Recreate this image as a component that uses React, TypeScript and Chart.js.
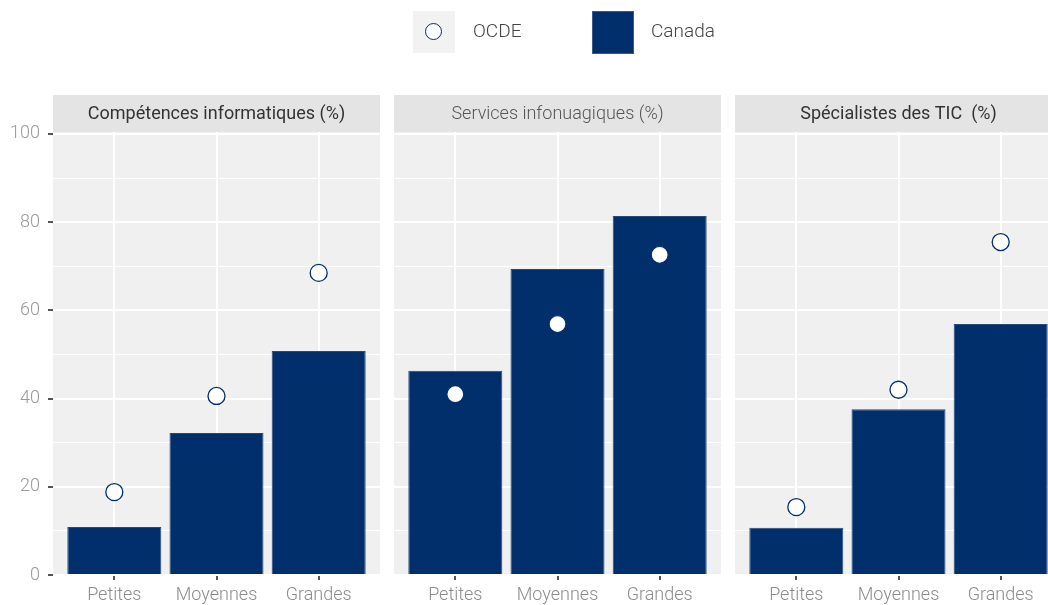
import React, { useEffect, useRef } from 'react';
import { Chart, registerables } from 'chart.js';

Chart.register(...registerables);

const categories = ['Petites', 'Moyennes', 'Grandes'];
const panelTitles = ['Compétences informatiques (%)', 'Services infonuagiques (%)', 'Spécialistes des TIC  (%)'];
const canadaCompetences = [10.9, 32.2, 50.8];
const ocdeCompetences = [18.8, 40.6, 68.5];
const canadaNuage = [46.3, 69.4, 81.4];
const ocdeNuage = [41.0, 56.9, 72.6];
const canadaTic = [10.7, 37.6, 56.9];
const ocdeTic = [15.4, 42.0, 75.5];
const yTickValues = [0, 10, 20, 30, 40, 50, 60, 70, 80, 90, 100];

const NAVY = '#002f6c';
const FONT = 'Roboto';

type PanelDef = {
  title: string;
  canada: number[];
  ocde: number[];
  showY: boolean;
  left: number;
  width: number;
  titleColor: string;
  titleWeight: number;
};

const panels: PanelDef[] = [
  { title: panelTitles[0], canada: canadaCompetences, ocde: ocdeCompetences, showY: true, left: 0, width: 380, titleColor: '#333333', titleWeight: 400 },
  { title: panelTitles[1], canada: canadaNuage, ocde: ocdeNuage, showY: false, left: 394, width: 327, titleColor: '#555555', titleWeight: 300 },
  { title: panelTitles[2], canada: canadaTic, ocde: ocdeTic, showY: false, left: 735, width: 327, titleColor: '#333333', titleWeight: 400 },
];

const stripPlugin = {
  id: 'strip',
  beforeDraw(chart: any, _args: any, opts: any) {
    const { ctx, chartArea } = chart;
    ctx.save();
    ctx.fillStyle = '#f0f0f0';
    ctx.fillRect(chartArea.left, chartArea.top, chartArea.right - chartArea.left, chartArea.bottom - chartArea.top);
    ctx.fillStyle = '#e4e4e4';
    ctx.fillRect(chartArea.left, chartArea.top - 37, chartArea.right - chartArea.left, 37);
    ctx.fillStyle = opts.color;
    ctx.font = `${opts.weight} 18px ${FONT}`;
    ctx.textAlign = 'center';
    ctx.textBaseline = 'middle';
    ctx.fillText(opts.title, (chartArea.left + chartArea.right) / 2, chartArea.top - 18);
    ctx.restore();
  },
};

function Panel({ def }: { def: PanelDef }) {
  const ref = useRef<HTMLCanvasElement | null>(null);
  useEffect(() => {
    if (!ref.current) return;
    const chart = new Chart(ref.current, {
      type: 'bar',
      data: {
        datasets: [
          {
            type: 'scatter',
            label: 'OCDE',
            data: def.ocde.map((v, i) => ({ x: i, y: v })),
            backgroundColor: '#ffffff',
            borderColor: NAVY,
            borderWidth: 1.3,
            pointRadius: 8.5,
            order: 0,
          } as any,
          {
            type: 'bar',
            label: 'Canada',
            data: def.canada.map((v, i) => ({ x: i, y: v })),
            backgroundColor: NAVY,
            borderColor: '#24487a',
            borderWidth: 1,
            barPercentage: 0.92,
            categoryPercentage: 1,
            order: 1,
          } as any,
        ],
      },
      options: {
        animation: false,
        responsive: false,
        layout: { autoPadding: false, padding: { top: 132, left: 0, right: 0, bottom: 0 } },
        plugins: {
          legend: { display: false },
          tooltip: { enabled: false },
          strip: { title: def.title, color: def.titleColor, weight: def.titleWeight },
        } as any,
        scales: {
          x: {
            type: 'linear',
            min: -0.6,
            max: 2.6,
            offset: false,
            border: { display: false },
            afterBuildTicks: (scale: any) => {
              scale.ticks = categories.map((_, i) => ({ value: i }));
            },
            afterFit: (scale: any) => {
              scale.height = 30;
              scale.paddingLeft = 0;
              scale.paddingRight = 0;
            },
            grid: {
              color: '#ffffff',
              lineWidth: 2,
              drawTicks: true,
              tickLength: 5,
              tickColor: '#555555',
              tickWidth: 2,
              offset: false,
            },
            ticks: {
              padding: 5,
              color: '#8c8c8c',
              font: { family: FONT, size: 18, weight: 300 },
              maxRotation: 0,
              autoSkip: false,
              callback: (v: any) => categories[Math.round(Number(v))] ?? '',
            },
          },
          y: {
            type: 'linear',
            min: 0,
            max: 100.45,
            border: { display: false },
            afterBuildTicks: (scale: any) => {
              scale.ticks = yTickValues.map((v) => ({ value: v }));
            },
            afterFit: (scale: any) => {
              scale.width = def.showY ? 53 : 0;
              scale.paddingTop = 0;
              scale.paddingBottom = 0;
            },
            grid: {
              color: '#ffffff',
              lineWidth: (c: any) => (c.tick && c.tick.value % 20 === 0 ? 2 : 1),
              drawTicks: def.showY,
              tickLength: 5,
              tickWidth: 2,
              tickColor: (c: any) => (c.tick && c.tick.value % 20 === 0 ? '#555555' : 'rgba(0,0,0,0)'),
            },
            ticks: {
              display: def.showY,
              padding: 8,
              color: '#999999',
              font: { family: FONT, size: 18, weight: 300 },
              autoSkip: false,
              callback: (v: any) => (Number(v) % 20 === 0 ? String(v) : ''),
            },
          },
        },
      } as any,
      plugins: [stripPlugin],
    });
    return () => chart.destroy();
  }, [def]);
  return (
    <canvas
      ref={ref}
      width={def.width}
      height={605}
      style={{ position: 'absolute', left: def.left, top: 0, width: def.width, height: 605 }}
    />
  );
}

export default function App() {
  return (
    <div
      style={{
        position: 'fixed',
        left: 0,
        top: 0,
        width: 1048,
        height: 605,
        overflow: 'hidden',
        background: '#ffffff',
        fontFamily: FONT,
      }}
    >
      {panels.map((p, i) => (
        <Panel key={i} def={p} />
      ))}
      <div style={{ position: 'absolute', left: 413, top: 11, width: 42, height: 42, background: '#f2f2f2' }}>
        <div
          style={{
            position: 'absolute',
            left: 12,
            top: 12,
            width: 15,
            height: 15,
            borderRadius: '50%',
            border: `1.3px solid ${NAVY}`,
            background: '#ffffff',
          }}
        />
      </div>
      <div style={{ position: 'absolute', left: 473, top: 20, fontSize: 19, fontWeight: 300, color: '#444444', lineHeight: '22px' }}>
        OCDE
      </div>
      <div
        style={{
          position: 'absolute',
          left: 592,
          top: 11,
          width: 40,
          height: 41,
          background: NAVY,
          border: '1px solid #3a5a8c',
        }}
      />
      <div style={{ position: 'absolute', left: 651, top: 20, fontSize: 19, fontWeight: 300, color: '#444444', lineHeight: '22px' }}>
        Canada
      </div>
    </div>
  );
}
